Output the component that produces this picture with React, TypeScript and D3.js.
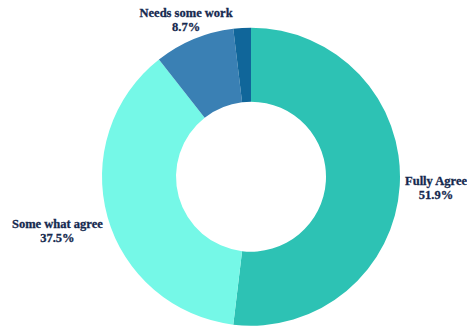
import React from "react";
import * as d3 from "d3";

const categories = ["Fully Agree", "Some what agree", "Needs some work", "Other"];
const values = [51.9, 37.5, 8.7, 1.9];
const showLabel = [true, true, true, false];
const colors = ["#2dc2b4", "#75f8e7", "#3a80b4", "#10669a"];

const W = 467;
const H = 326;
const CX = 251;
const CY = 176.7;
const R_OUT = 149;
const R_IN = 75;
const LABEL_OFFSET = 5;
const FONT_SIZE = 12.5;
const LINE_H = 14.5;
const FONT = `bold ${FONT_SIZE}px "Liberation Serif"`;

function measure(text: string): number {
  if (typeof document === "undefined") return text.length * 6;
  const c = document.createElement("canvas");
  const ctx = c.getContext("2d");
  if (!ctx) return text.length * 6;
  ctx.font = FONT;
  return ctx.measureText(text).width;
}

export default function App() {
  const pie = d3
    .pie<number>()
    .sort(null)
    .value((d) => d);
  const arcs = pie(values);
  const arc = d3.arc<d3.PieArcDatum<number>>().innerRadius(R_IN).outerRadius(R_OUT);

  return (
    <svg
      width={W}
      height={H}
      style={{ position: "absolute", left: 0, top: 0, display: "block" }}
    >
      <g transform={`translate(${CX},${CY})`}>
        {arcs.map((a, i) => (
          <path key={i} d={arc(a) || ""} fill={colors[i]} />
        ))}
        {arcs.map((a, i) => {
          if (!showLabel[i]) return null;
          const line1 = categories[i];
          const line2 = `${values[i]}%`;
          const w = Math.max(measure(line1), measure(line2)) / 2;
          const h = LINE_H;
          const mid = (a.startAngle + a.endAngle) / 2;
          const dx = Math.sin(mid);
          const dy = -Math.cos(mid);
          const tEdge = Math.min(
            Math.abs(dx) > 1e-6 ? w / Math.abs(dx) : Infinity,
            Math.abs(dy) > 1e-6 ? h / Math.abs(dy) : Infinity
          );
          const r = R_OUT + LABEL_OFFSET + tEdge;
          const x = dx * r;
          const y = dy * r;
          return (
            <text
              key={`l${i}`}
              x={x}
              y={y}
              textAnchor="middle"
              fill="#15294f"
              stroke="#15294f"
              strokeWidth={0.3}
              style={{ font: FONT }}
            >
              <tspan x={x} dy={-LINE_H / 2 + 4}>
                {line1}
              </tspan>
              <tspan x={x} dy={LINE_H}>
                {line2}
              </tspan>
            </text>
          );
        })}
      </g>
    </svg>
  );
}
